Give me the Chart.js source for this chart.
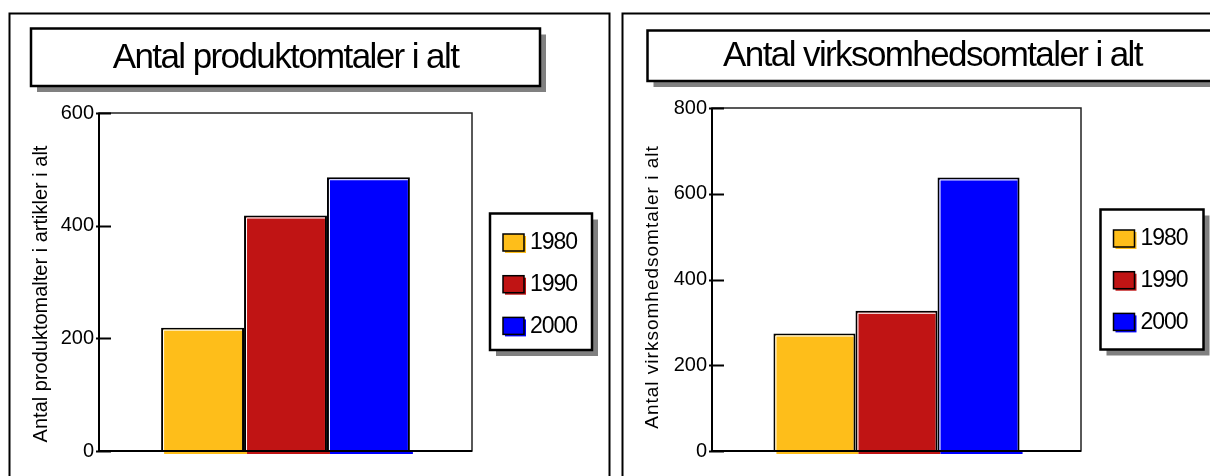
<!DOCTYPE html>
<html>
<head>
<meta charset="utf-8">
<script src="https://cdn.jsdelivr.net/npm/chart.js@4"></script>
<style>
  body { margin: 0; background: #fff; width: 1210px; height: 476px; overflow: hidden; position: relative; }
  canvas { position: absolute; top: 0; }
  #venstre { left: 0; }
  #hoejre { left: 612px; }
</style>
</head>
<body>
<canvas id="venstre" width="612" height="476"></canvas>
<canvas id="hoejre" width="598" height="476"></canvas>
<script>
// Data
const aar = ['1980', '1990', '2000'];
const farver = ['#FEBE1A', '#C01414', '#0000FF'];
const produktomtaler = [219, 418, 486];
const virksomhedsomtaler = [274, 327, 638];
const produktMax = 600;
const virksomhedMax = 800;
const trin = 200;

const skrift = '"Liberation Sans", Arial, sans-serif';

// Tegner rammer, titelboks, forklaring og aksetitel
const rammePlugin = {
  id: 'ramme',
  beforeDraw(chart, args, opt) {
    const ctx = chart.ctx;
    ctx.save();
    ctx.fillStyle = '#fff';
    ctx.fillRect(0, 0, chart.width, chart.height);

    // ydre ramme
    ctx.strokeStyle = '#000';
    ctx.lineWidth = 2;
    ctx.strokeRect(opt.ramme[0], opt.ramme[1], opt.ramme[2], opt.ramme[3]);

    // titelboks med skygge
    const [tx, ty, tw, th] = opt.titelBoks;
    ctx.fillStyle = '#808080';
    ctx.fillRect(tx + 6, ty + 6, tw, th);
    ctx.fillStyle = '#fff';
    ctx.fillRect(tx, ty, tw, th);
    ctx.lineWidth = 2.5;
    ctx.strokeRect(tx, ty, tw, th);
    ctx.fillStyle = '#000';
    ctx.font = '35px ' + skrift;
    ctx.letterSpacing = opt.titelAfstand;
    ctx.textAlign = 'center';
    ctx.textBaseline = 'middle';
    ctx.fillText(opt.titel, opt.titelMidte, ty + th / 2 + 1);

    // aksetitel
    ctx.font = opt.akseStr + 'px ' + skrift;
    ctx.letterSpacing = opt.akseAfstand;
    ctx.translate(opt.akseX, opt.akseY);
    ctx.rotate(-Math.PI / 2);
    ctx.fillText(opt.aksetitel, 0, 0);
    ctx.restore();

    // forklaring
    ctx.save();
    const [lx, ly, lw, lh] = opt.forklaring;
    ctx.fillStyle = '#808080';
    ctx.fillRect(lx + 6, ly + 6, lw, lh);
    ctx.fillStyle = '#fff';
    ctx.fillRect(lx, ly, lw, lh);
    ctx.strokeStyle = '#000';
    ctx.lineWidth = 2.5;
    ctx.strokeRect(lx, ly, lw, lh);
    ctx.font = '23px ' + skrift;
    ctx.letterSpacing = '-1px';
    ctx.textAlign = 'left';
    ctx.textBaseline = 'middle';
    chart.data.datasets.forEach((ds, i) => {
      const cy = ly + 28.5 + i * 41.7;
      const sx = lx + 13;
      ctx.fillStyle = ds.backgroundColor;
      ctx.fillRect(sx + 2, cy - 8 + 2, 21, 17);
      ctx.fillRect(sx, cy - 8, 21, 17);
      ctx.lineWidth = 1.5;
      ctx.strokeStyle = '#000';
      ctx.strokeRect(sx, cy - 8, 21, 17);
      ctx.fillStyle = '#000';
      ctx.fillText(ds.label, sx + 27, cy + 1);
    });
    ctx.restore();
  },
  afterDatasetsDraw(chart) {
    const ctx = chart.ctx;
    const a = chart.chartArea;
    ctx.save();

    // lys kant og farvet skygge på søjlerne
    chart.data.datasets.forEach((ds, i) => {
      const bar = chart.getDatasetMeta(i).data[0];
      const v = bar.x - bar.width / 2, h = bar.x + bar.width / 2;
      ctx.fillStyle = ds.backgroundColor;
      ctx.fillRect(v + 3, bar.base, bar.width, 3);
      ctx.strokeStyle = '#fff';
      ctx.lineWidth = 1;
      ctx.beginPath();
      ctx.moveTo(v + 2.5, bar.base);
      ctx.lineTo(v + 2.5, bar.y + 2.5);
      ctx.lineTo(h - 2, bar.y + 2.5);
      ctx.stroke();
    });

    // plotramme
    ctx.strokeStyle = '#222';
    ctx.lineWidth = 1.5;
    ctx.strokeRect(a.left, a.top, a.right - a.left, a.bottom - a.top);
    ctx.strokeStyle = '#000';
    ctx.lineWidth = 2;
    ctx.beginPath();
    ctx.moveTo(a.left, a.top);
    ctx.lineTo(a.left, a.bottom);
    ctx.lineTo(a.right, a.bottom);
    ctx.stroke();

    // tick-streger indad
    const y = chart.scales.y;
    y.ticks.forEach(t => {
      const py = Math.round(y.getPixelForValue(t.value)) + 0.5;
      ctx.beginPath();
      ctx.moveTo(a.left - 3, py);
      ctx.lineTo(a.left + 12, py);
      ctx.stroke();
    });
    ctx.restore();
  }
};

function lavDiagram(id, vaerdier, maks, pad, yBredde, opsaetning) {
  return new Chart(document.getElementById(id), {
    type: 'bar',
    data: {
      labels: [''],
      datasets: aar.map((a, i) => ({
        label: a,
        data: [vaerdier[i]],
        backgroundColor: farver[i],
        borderColor: '#000',
        borderWidth: 2,
        categoryPercentage: 0.667,
        barPercentage: 1
      }))
    },
    options: {
      responsive: false,
      animation: false,
      events: [],
      layout: { padding: pad },
      plugins: {
        legend: { display: false },
        tooltip: { enabled: false },
        title: { display: false },
        ramme: opsaetning
      },
      scales: {
        x: { display: false },
        y: {
          min: 0,
          max: maks,
          afterFit: s => { s.width = yBredde; },
          grid: { display: false, drawTicks: false },
          border: { display: false },
          ticks: {
            stepSize: trin,
            padding: 5,
            color: '#000',
            font: { family: skrift, size: 20 }
          }
        }
      }
    },
    plugins: [rammePlugin]
  });
}

lavDiagram('venstre', produktomtaler, produktMax,
  { left: 0, right: 140, top: 113, bottom: 25 }, 99, {
    ramme: [9.5, 13.5, 600, 500],
    titelBoks: [31, 28.5, 509, 57.5],
    titel: 'Antal produktomtaler i alt',
    titelMidte: 285.5,
    titelAfstand: '-1.6px',
    forklaring: [490, 213.5, 102, 136.5],
    aksetitel: 'Antal produktomalter i artikler i alt',
    akseStr: 20,
    akseAfstand: '0px',
    akseX: 41,
    akseY: 294
  });

lavDiagram('hoejre', virksomhedsomtaler, virksomhedMax,
  { left: 0, right: 129, top: 108, bottom: 25 }, 100, {
    ramme: [10.5, 13.5, 620, 500],
    titelBoks: [35.5, 30.5, 580, 50.5],
    titel: 'Antal virksomhedsomtaler i alt',
    titelMidte: 320.5,
    titelAfstand: '-1.6px',
    forklaring: [488.5, 209.5, 103, 140],
    aksetitel: 'Antal virksomhedsomtaler i alt',
    akseStr: 19,
    akseAfstand: '1px',
    akseX: 40.5,
    akseY: 287
  });
</script>
</body>
</html>
